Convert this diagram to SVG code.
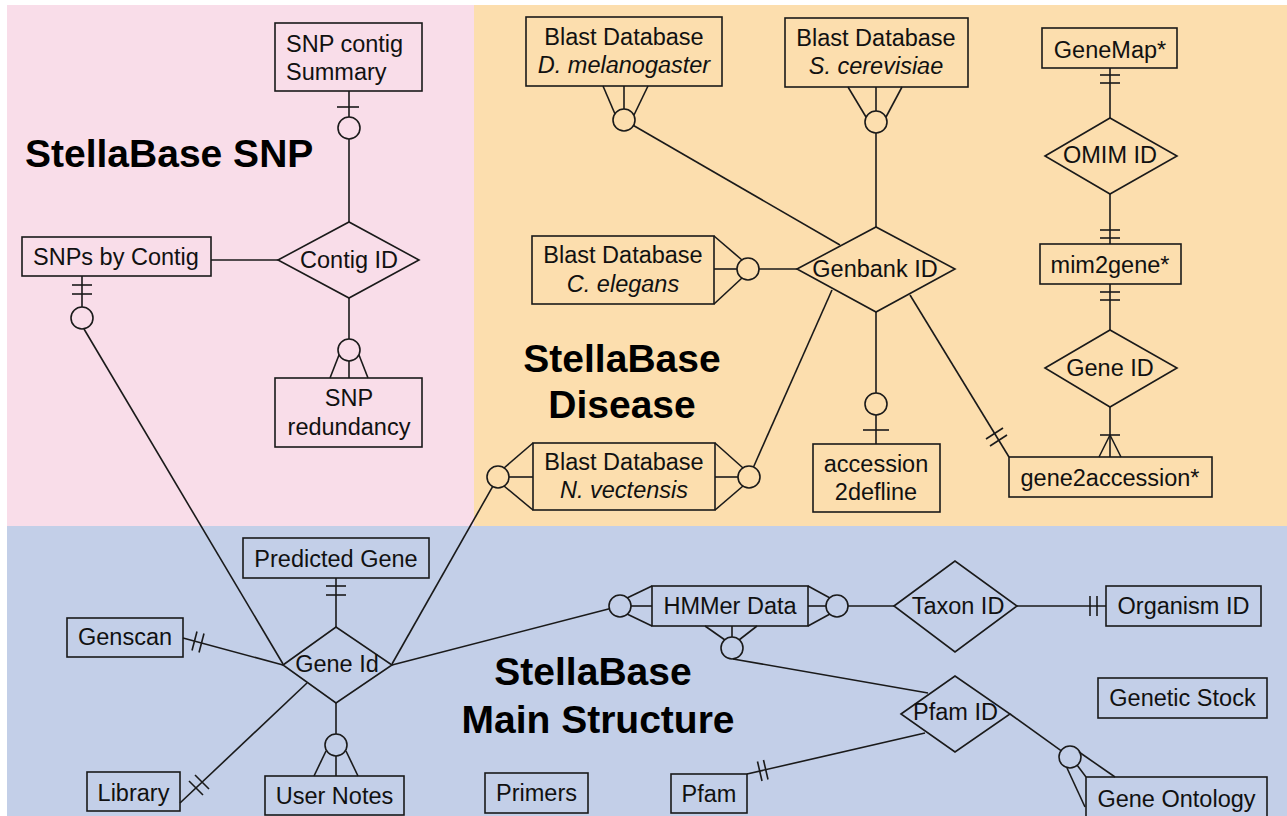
<svg xmlns="http://www.w3.org/2000/svg" width="1287" height="816" viewBox="0 0 1287 816">
<style>
.bx{fill:none;stroke:#1a1a1a;stroke-width:1.6}
.ln{fill:none;stroke:#1a1a1a;stroke-width:1.6}
.ci{fill:none;stroke:#1a1a1a;stroke-width:1.6}
.t{font-family:"Liberation Sans",Arial,sans-serif;font-size:23.5px;fill:#111}
.tm{text-anchor:middle}
.i{font-style:italic}
.h{font-family:"Liberation Sans",Arial,sans-serif;font-size:39px;font-weight:bold;fill:#000}
</style>
<rect x="0" y="0" width="1287" height="816" fill="#ffffff"/>
<rect x="7" y="5" width="467" height="521" fill="#f9dde9"/>
<rect x="474" y="5" width="813" height="521" fill="#fcdeae"/>
<rect x="7" y="526" width="1280" height="290" fill="#c3cfe8"/>
<g id="titles">
<text class="h" x="25" y="167">StellaBase SNP</text>
<text class="h tm" x="622" y="372">StellaBase</text>
<text class="h tm" x="622" y="418">Disease</text>
<text class="h tm" x="593" y="685">StellaBase</text>
<text class="h tm" x="598" y="733">Main Structure</text>
</g>
<g id="connectors">
<!-- SNP contig summary to Contig ID -->
<line class="ln" x1="349" y1="91" x2="349" y2="117"/>
<line class="ln" x1="337" y1="107" x2="359" y2="107"/>
<circle class="ci" cx="349" cy="128" r="11"/>
<line class="ln" x1="349" y1="139" x2="349" y2="222"/>
<!-- SNPs by contig to Contig ID -->
<line class="ln" x1="211" y1="260" x2="278" y2="260"/>
<!-- Contig ID to SNP redundancy -->
<line class="ln" x1="349" y1="298" x2="349" y2="339"/>
<circle class="ci" cx="349" cy="350" r="11"/>
<line class="ln" x1="339" y1="355" x2="330" y2="378"/>
<line class="ln" x1="349" y1="361" x2="349" y2="378"/>
<line class="ln" x1="359" y1="355" x2="368" y2="378"/>
<!-- SNPs by contig to Gene Id -->
<line class="ln" x1="82" y1="276" x2="82" y2="307"/>
<line class="ln" x1="72" y1="285" x2="92" y2="285"/>
<line class="ln" x1="72" y1="294" x2="92" y2="294"/>
<circle class="ci" cx="82" cy="318" r="11"/>
<line class="ln" x1="84" y1="329" x2="283" y2="664"/>
<!-- D. melanogaster -->
<line class="ln" x1="603" y1="86" x2="615" y2="114"/>
<line class="ln" x1="624" y1="86" x2="624" y2="109"/>
<line class="ln" x1="648" y1="86" x2="634" y2="115"/>
<circle class="ci" cx="624" cy="120" r="11"/>
<line class="ln" x1="633.5" y1="125.5" x2="840" y2="245"/>
<!-- S. cerevisiae -->
<line class="ln" x1="848" y1="87" x2="866" y2="117"/>
<line class="ln" x1="876" y1="87" x2="876" y2="111"/>
<line class="ln" x1="902" y1="87" x2="886" y2="117"/>
<circle class="ci" cx="876" cy="122" r="11"/>
<line class="ln" x1="876" y1="133" x2="876" y2="227"/>
<!-- C. elegans -->
<line class="ln" x1="714" y1="236" x2="742" y2="260"/>
<line class="ln" x1="714" y1="269" x2="737" y2="269"/>
<line class="ln" x1="714" y1="304" x2="742" y2="278"/>
<circle class="ci" cx="748" cy="269" r="11"/>
<line class="ln" x1="759" y1="269" x2="797" y2="269"/>
<!-- Genbank to accession2defline -->
<line class="ln" x1="876" y1="312" x2="876" y2="393"/>
<circle class="ci" cx="876" cy="404" r="11"/>
<line class="ln" x1="876" y1="415" x2="876" y2="444"/>
<line class="ln" x1="863" y1="430" x2="889" y2="430"/>
<!-- Genbank to gene2accession -->
<line class="ln" x1="910" y1="295" x2="1009" y2="457"/>
<line class="ln" x1="990" y1="446" x2="1007" y2="435"/>
<line class="ln" x1="986" y1="439" x2="1003" y2="428"/>
<!-- Genbank to N. vectensis -->
<line class="ln" x1="832" y1="290" x2="753.5" y2="467"/>
<line class="ln" x1="715" y1="443" x2="743" y2="468"/>
<line class="ln" x1="715" y1="477" x2="738" y2="477"/>
<line class="ln" x1="715" y1="510" x2="743" y2="486"/>
<circle class="ci" cx="749" cy="477" r="11"/>
<line class="ln" x1="533" y1="443" x2="504" y2="468"/>
<line class="ln" x1="533" y1="477" x2="509" y2="477"/>
<line class="ln" x1="533" y1="510" x2="504" y2="486"/>
<circle class="ci" cx="498" cy="477" r="11"/>
<line class="ln" x1="492.6" y1="486.6" x2="392" y2="664"/>
<!-- GeneMap to OMIM -->
<line class="ln" x1="1110" y1="68" x2="1110" y2="118"/>
<line class="ln" x1="1100" y1="75" x2="1120" y2="75"/>
<line class="ln" x1="1100" y1="83" x2="1120" y2="83"/>
<!-- OMIM to mim2gene -->
<line class="ln" x1="1110" y1="194" x2="1110" y2="244"/>
<line class="ln" x1="1100" y1="230" x2="1120" y2="230"/>
<line class="ln" x1="1100" y1="238" x2="1120" y2="238"/>
<!-- mim2gene to Gene ID -->
<line class="ln" x1="1110" y1="284" x2="1110" y2="330"/>
<line class="ln" x1="1100" y1="292" x2="1120" y2="292"/>
<line class="ln" x1="1100" y1="300" x2="1120" y2="300"/>
<!-- Gene ID to gene2accession -->
<line class="ln" x1="1110" y1="407" x2="1110" y2="457"/>
<line class="ln" x1="1100" y1="435" x2="1120" y2="435"/>
<line class="ln" x1="1110" y1="435" x2="1099" y2="457"/>
<line class="ln" x1="1110" y1="435" x2="1121" y2="457"/>
<!-- Predicted Gene to Gene Id -->
<line class="ln" x1="336" y1="578" x2="336" y2="627"/>
<line class="ln" x1="326" y1="586" x2="346" y2="586"/>
<line class="ln" x1="326" y1="595" x2="346" y2="595"/>
<!-- Genscan -->
<line class="ln" x1="183" y1="638" x2="283" y2="665"/>
<line class="ln" x1="197" y1="631.5" x2="192" y2="650.5"/>
<line class="ln" x1="204" y1="633.5" x2="199" y2="652.5"/>
<!-- Library -->
<line class="ln" x1="180" y1="803" x2="307" y2="683"/>
<line class="ln" x1="189" y1="781" x2="203" y2="795"/>
<line class="ln" x1="195" y1="775" x2="209" y2="789"/>
<!-- User Notes -->
<line class="ln" x1="336" y1="703" x2="336" y2="734"/>
<circle class="ci" cx="336" cy="745" r="11"/>
<line class="ln" x1="326" y1="751" x2="314" y2="776"/>
<line class="ln" x1="336" y1="756" x2="336" y2="776"/>
<line class="ln" x1="346" y1="751" x2="358" y2="776"/>
<!-- Gene Id to HMMer -->
<line class="ln" x1="392" y1="665" x2="609.4" y2="608.8"/>
<circle class="ci" cx="620" cy="606" r="11"/>
<line class="ln" x1="652" y1="586" x2="627" y2="598"/>
<line class="ln" x1="652" y1="606" x2="631" y2="606"/>
<line class="ln" x1="652" y1="626" x2="627" y2="614"/>
<!-- HMMer to Taxon -->
<line class="ln" x1="808" y1="586" x2="830" y2="598"/>
<line class="ln" x1="808" y1="606" x2="826" y2="606"/>
<line class="ln" x1="808" y1="626" x2="830" y2="614"/>
<circle class="ci" cx="837" cy="606" r="11"/>
<line class="ln" x1="848" y1="606" x2="894" y2="606"/>
<!-- HMMer to Pfam ID -->
<line class="ln" x1="705" y1="626" x2="725" y2="640"/>
<line class="ln" x1="732" y1="626" x2="732" y2="637"/>
<line class="ln" x1="757" y1="626" x2="739" y2="640"/>
<circle class="ci" cx="732" cy="648" r="11"/>
<line class="ln" x1="733" y1="659" x2="928" y2="693"/>
<!-- Taxon to Organism -->
<line class="ln" x1="1017" y1="606" x2="1106" y2="606"/>
<line class="ln" x1="1090" y1="596" x2="1090" y2="616"/>
<line class="ln" x1="1097" y1="596" x2="1097" y2="616"/>
<!-- Pfam to Pfam ID -->
<line class="ln" x1="747" y1="774" x2="925" y2="733"/>
<line class="ln" x1="757.5" y1="761.5" x2="762" y2="781"/>
<line class="ln" x1="763.5" y1="760" x2="768" y2="779.5"/>
<!-- Pfam ID to Gene Ontology -->
<line class="ln" x1="1010" y1="714" x2="1061" y2="750.6"/>
<circle class="ci" cx="1070" cy="757" r="11"/>
<line class="ln" x1="1079" y1="752" x2="1115" y2="777"/>
<line class="ln" x1="1077" y1="765" x2="1086" y2="777"/>
<line class="ln" x1="1067" y1="768" x2="1085" y2="807"/>
</g>
<g id="n-snp-contig-summary"><rect class="bx" x="275" y="23" width="147" height="68"/><text class="t" x="286" y="52">SNP contig</text><text class="t" x="286" y="80">Summary</text></g>
<g id="n-snps-by-contig"><rect class="bx" x="22" y="237" width="189" height="39"/><text class="t" x="33" y="265">SNPs by Contig</text></g>
<g id="n-contig-id"><polygon class="bx" points="278,260 349,222 419,260 349,298"/><text class="t tm" x="349" y="268">Contig ID</text></g>
<g id="n-snp-redundancy"><rect class="bx" x="275" y="378" width="147" height="69"/><text class="t tm" x="349" y="406">SNP</text><text class="t tm" x="349" y="435">redundancy</text></g>
<g id="n-blast-dmel"><rect class="bx" x="526" y="17" width="196" height="69"/><text class="t tm" x="624" y="45">Blast Database</text><text class="t tm i" x="624" y="73">D. melanogaster</text></g>
<g id="n-blast-scer"><rect class="bx" x="785" y="18" width="183" height="69"/><text class="t tm" x="876" y="46">Blast Database</text><text class="t tm i" x="876" y="74">S. cerevisiae</text></g>
<g id="n-blast-cele"><rect class="bx" x="532" y="236" width="182" height="68"/><text class="t tm" x="623" y="263">Blast Database</text><text class="t tm i" x="623" y="292">C. elegans</text></g>
<g id="n-genbank-id"><polygon class="bx" points="797,269 876,227 955,269 876,312"/><text class="t tm" x="875" y="277">Genbank ID</text></g>
<g id="n-blast-nvec"><rect class="bx" x="533" y="443" width="182" height="67"/><text class="t tm" x="624" y="470">Blast Database</text><text class="t tm i" x="624" y="498">N. vectensis</text></g>
<g id="n-accession2defline"><rect class="bx" x="813" y="444" width="127" height="68"/><text class="t tm" x="876" y="472">accession</text><text class="t tm" x="876" y="500">2defline</text></g>
<g id="n-genemap"><rect class="bx" x="1042" y="28" width="135" height="40"/><text class="t tm" x="1110" y="58">GeneMap*</text></g>
<g id="n-omim-id"><polygon class="bx" points="1045,156 1110,118 1177,156 1110,194"/><text class="t tm" x="1110" y="163">OMIM ID</text></g>
<g id="n-mim2gene"><rect class="bx" x="1040" y="244" width="141" height="40"/><text class="t tm" x="1110" y="273">mim2gene*</text></g>
<g id="n-gene-id"><polygon class="bx" points="1045,368 1110,330 1177,368 1110,407"/><text class="t tm" x="1110" y="376">Gene ID</text></g>
<g id="n-gene2accession"><rect class="bx" x="1009" y="457" width="203" height="40"/><text class="t tm" x="1110" y="486">gene2accession*</text></g>
<g id="n-predicted-gene"><rect class="bx" x="243" y="538" width="186" height="40"/><text class="t tm" x="336" y="567">Predicted Gene</text></g>
<g id="n-gene-id-main"><polygon class="bx" points="283,665 336,627 392,665 336,703"/><text class="t tm" x="337" y="672">Gene Id</text></g>
<g id="n-genscan"><rect class="bx" x="67" y="618" width="116" height="39"/><text class="t tm" x="125" y="645">Genscan</text></g>
<g id="n-library"><rect class="bx" x="87" y="772" width="93" height="39"/><text class="t tm" x="133.5" y="801">Library</text></g>
<g id="n-user-notes"><rect class="bx" x="265" y="776" width="139" height="39"/><text class="t tm" x="334.5" y="804">User Notes</text></g>
<g id="n-primers"><rect class="bx" x="485" y="773" width="103" height="40"/><text class="t tm" x="536.5" y="801">Primers</text></g>
<g id="n-pfam"><rect class="bx" x="671" y="774" width="76" height="39"/><text class="t tm" x="709" y="802">Pfam</text></g>
<g id="n-hmmer"><rect class="bx" x="652" y="586" width="156" height="40"/><text class="t tm" x="730" y="614">HMMer Data</text></g>
<g id="n-taxon-id"><polygon class="bx" points="894,606 955,561 1017,606 955,652"/><text class="t tm" x="958" y="614">Taxon ID</text></g>
<g id="n-organism-id"><rect class="bx" x="1106" y="586" width="155" height="40"/><text class="t tm" x="1183.5" y="614">Organism ID</text></g>
<g id="n-pfam-id"><polygon class="bx" points="901,714 955,676 1010,714 955,752"/><text class="t tm" x="955.5" y="720">Pfam ID</text></g>
<g id="n-genetic-stock"><rect class="bx" x="1098" y="678" width="169" height="40"/><text class="t tm" x="1182.5" y="706">Genetic Stock</text></g>
<g id="n-gene-ontology"><rect class="bx" x="1086" y="777" width="181" height="45"/><text class="t tm" x="1176.5" y="807">Gene Ontology</text></g>
</svg>
